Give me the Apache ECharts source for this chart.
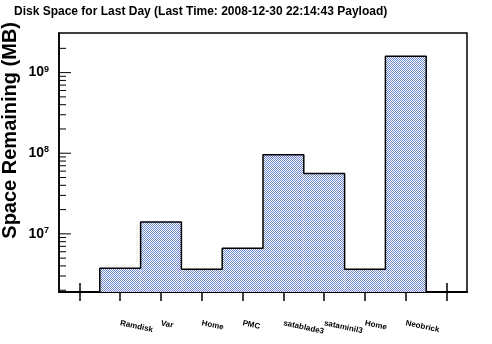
<!DOCTYPE html>
<html>
<head>
<meta charset="utf-8">
<script src="https://cdn.jsdelivr.net/npm/echarts@6/dist/echarts.min.js"></script>
<style>
html,body{margin:0;padding:0;background:#fff;}
#chart{width:492px;height:344px;}
</style>
</head>
<body>
<div id="chart"></div>
<script>
// ---- data ----
var categories = ['', 'Ramdisk', 'Var', 'Home', 'PMC', 'satablade3', 'sataminil3', 'Home', 'Neobrick', ''];
var spaceRemaining = [null, 3.74e6, 1.40e7, 3.63e6, 6.64e6, 9.6e7, 5.59e7, 3.63e6, 1.60e9, null];
var yMajorTicks = [1e7, 1e8, 1e9];
var yMinorTicks = [2e6, 3e6, 4e6, 5e6, 6e6, 7e6, 8e6, 9e6,
                   2e7, 3e7, 4e7, 5e7, 6e7, 7e7, 8e7, 9e7,
                   2e8, 3e8, 4e8, 5e8, 6e8, 7e8, 8e8, 9e8,
                   2e9];
var yMin = 1.9e6, yMax = 3.1e9;

// checkered fill pattern
var pc = document.createElement('canvas');
pc.width = 2; pc.height = 2;
var ctx = pc.getContext('2d');
ctx.fillStyle = '#ffffff'; ctx.fillRect(0, 0, 2, 2);
ctx.fillStyle = '#6d86cc'; ctx.fillRect(0, 0, 1, 1); ctx.fillRect(1, 1, 1, 1);

var tickData = [];
yMajorTicks.forEach(function (v) { tickData.push([0, v, 12]); });
yMinorTicks.forEach(function (v) { tickData.push([0, v, 7]); });

// histogram outline (empty bins sit on the axis floor)
var outline = spaceRemaining.map(function (v) { return v == null ? yMin : v; });

var chart = echarts.init(document.getElementById('chart'), null, {renderer: 'canvas'});
var font = 'Liberation Sans, Arial, Helvetica, sans-serif';

chart.setOption({
  animation: false,
  backgroundColor: '#fff',
  title: {
    text: 'Disk Space for Last Day (Last Time: 2008-12-30 22:14:43 Payload)',
    left: 14, top: 6, padding: 0,
    textStyle: {fontFamily: font, fontSize: 12, fontWeight: 'bold', color: '#000'}
  },
  grid: {left: 59, right: 25, top: 33, bottom: 52, show: true, borderColor: '#000', borderWidth: 1.5},
  xAxis: [{
    type: 'category', data: categories, boundaryGap: true, position: 'bottom',
    axisLine: {lineStyle: {color: '#000', width: 2}},
    axisTick: {show: true, alignWithLabel: true, interval: 0, length: 9, lineStyle: {color: '#000', width: 1.5}},
    axisLabel: {interval: 0, rotate: -12, margin: 31, fontFamily: font, fontSize: 8, fontWeight: 'bold', color: '#000'},
    splitLine: {show: false}
  }, {
    type: 'category', data: categories, boundaryGap: true, position: 'bottom',
    axisLine: {show: false},
    axisTick: {show: true, inside: true, alignWithLabel: true, interval: 0, length: 9, lineStyle: {color: '#000', width: 1.5}},
    axisLabel: {show: false},
    splitLine: {show: false}
  }],
  yAxis: {
    type: 'log', min: yMin, max: yMax, logBase: 10,
    axisLine: {show: true, lineStyle: {color: '#000', width: 1.5}},
    axisTick: {show: false},
    splitLine: {show: false},
    axisLabel: {
      margin: 10, showMinLabel: false, showMaxLabel: false,
      formatter: function (v) {
        var e = Math.log10(v);
        var r = Math.round(e);
        if (Math.abs(e - r) > 1e-6) return '';
        if (yMajorTicks.indexOf(Math.pow(10, r)) < 0) return '';
        return '{b|10}{s|' + r + '}';
      },
      rich: {
        b: {fontFamily: font, fontSize: 14, fontWeight: 'bold', color: '#000', lineHeight: 16},
        s: {fontFamily: font, fontSize: 9, fontWeight: 'bold', color: '#000', verticalAlign: 'top', lineHeight: 9}
      }
    }
  },
  graphic: [{
    type: 'text', x: 10, y: 22, rotation: Math.PI / 2,
    style: {text: 'Space Remaining (MB)', font: 'bold 20px ' + font, fill: '#000', textAlign: 'right', textVerticalAlign: 'middle'}
  }],
  series: [{
    type: 'bar', xAxisIndex: 0, data: spaceRemaining,
    barWidth: '100%', barCategoryGap: '0%',
    itemStyle: {color: {image: pc, repeat: 'repeat'}, borderWidth: 0},
    silent: true
  }, {
    type: 'line', xAxisIndex: 0, data: outline, step: 'middle',
    showSymbol: false, symbol: 'none', silent: true, z: 4,
    lineStyle: {color: '#000', width: 1.5}
  }, {
    type: 'custom', xAxisIndex: 0, data: tickData, silent: true, z: 5,
    renderItem: function (params, api) {
      var y = api.coord([0, api.value(1)])[1];
      var x0 = params.coordSys.x;
      var len = api.value(2);
      return {type: 'line', shape: {x1: x0, y1: y, x2: x0 + len, y2: y}, style: {stroke: '#000', lineWidth: 1}};
    }
  }]
});
</script>
</body>
</html>
